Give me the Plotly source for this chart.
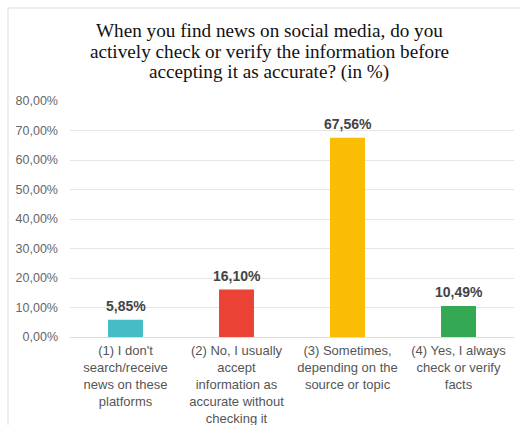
import plotly.graph_objects as go

# Survey answers and shares (in %)
categories = [
    "(1) I don't<br>search/receive<br>news on these<br>platforms",
    "(2) No, I usually<br>accept<br>information as<br>accurate without<br>checking it",
    "(3) Sometimes,<br>depending on the<br>source or topic",
    "(4) Yes, I always<br>check or verify<br>facts",
]
shares = [5.85, 16.10, 67.56, 10.49]
bar_colors = ["#46BDC6", "#EA4335", "#FBBC04", "#34A853"]
tick_values = [0, 10, 20, 30, 40, 50, 60, 70, 80]
title_lines = [
    "When you find news on social media, do you",
    "actively check or verify the information before",
    "accepting it as accurate? (in %)",
]

W, H = 520, 425
ML, MR, MT, MB = 70, 6, 101, 88
PW, PH = W - ML - MR, H - MT - MB


def fmt(v):
    return f"{v:.2f}".replace(".", ",") + "%"


fig = go.Figure(
    go.Bar(
        x=categories,
        y=shares,
        marker=dict(color=bar_colors, line=dict(width=0)),
        hoverinfo="skip",
    )
)

# value labels above each bar
for c, v in zip(categories, shares):
    fig.add_annotation(
        x=c, y=v, text=f"<b>{fmt(v)}</b>", showarrow=False,
        yanchor="bottom", yshift=4,
        font=dict(family="Liberation Sans, Arial", size=14, color="#444444"),
    )

# three-line title
for i, line in enumerate(title_lines):
    fig.add_annotation(
        xref="paper", yref="paper",
        x=(269 - ML) / PW, y=1 + (MT - (30 + 21 * i)) / PH,
        text=line, showarrow=False, xanchor="center", yanchor="middle",
        font=dict(family="Liberation Serif, Times New Roman", size=19.2, color="#111111"),
    )

# light frame along the top and left edges
bx = (8 - ML) / PW
by = 1 + (MT - 8) / PH
frame = dict(color="#e8e8e8", width=1.5)
fig.add_shape(type="line", xref="paper", yref="paper", x0=bx, y0=by, x1=(W - ML) / PW, y1=by, line=frame)
fig.add_shape(type="line", xref="paper", yref="paper", x0=bx, y0=by, x1=bx, y1=-(MB) / PH, line=frame)

fig.update_layout(
    width=W, height=H,
    margin=dict(l=ML, r=MR, t=MT, b=MB, autoexpand=False),
    paper_bgcolor="white", plot_bgcolor="white",
    bargap=0.685,
    showlegend=False,
    font=dict(family="Liberation Sans, Arial", color="#555555"),
)
fig.update_xaxes(
    tickfont=dict(size=13, color="#555555"),
    showgrid=False, showline=False, ticks="", ticklabelstandoff=4,
    automargin=False,
)
fig.update_yaxes(
    range=[0, 80],
    tickvals=tick_values,
    ticktext=[fmt(t) for t in tick_values],
    tickfont=dict(size=12.5, color="#666666"),
    showgrid=True, gridcolor="#e6e6e6", gridwidth=1,
    zeroline=True, zerolinecolor="#dddddd", zerolinewidth=1,
    showline=False, ticks="", ticklabelstandoff=11,
    automargin=False,
)

fig.write_html("out.html")
